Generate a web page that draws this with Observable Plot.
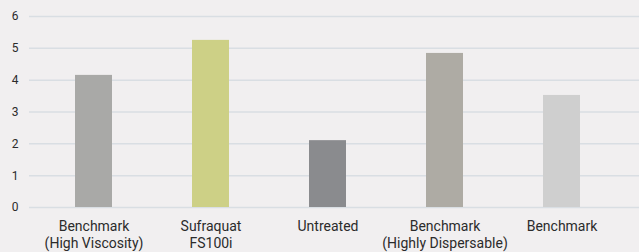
<!DOCTYPE html>
<html>
<head>
<meta charset="utf-8">
<script src="https://cdn.jsdelivr.net/npm/d3@7"></script>
<script src="https://cdn.jsdelivr.net/npm/@observablehq/plot@0.6"></script>
<style>
  html, body { margin: 0; padding: 0; background: #f1eff0; }
  #chart svg { display: block; }
</style>
</head>
<body>
<div id="chart"></div>
<script>
const categories = [
  "Benchmark\n(High Viscosity)",
  "Sufraquat\nFS100i",
  "Untreated",
  "Benchmark\n(Highly Dispersable)",
  "Benchmark"
];
const values = [4.15, 5.25, 2.1, 4.84, 3.52];
const colors = ["#a9a9a7", "#cdd086", "#8a8b8e", "#aeaba4", "#cfcfcf"];
const yTicks = [0, 1, 2, 3, 4, 5, 6];

const data = categories.map((c, i) => ({ key: i, label: c, value: values[i], color: colors[i] }));

const chart = Plot.plot({
  width: 639,
  height: 252,
  marginTop: 16,
  marginBottom: 45,
  marginLeft: 29,
  marginRight: 0,
  style: { background: "#f1eff0", fontFamily: "Roboto, sans-serif", color: "#333" },
  x: {
    domain: data.map(d => d.key),
    range: [35, 620.5],
    paddingInner: 0.684,
    paddingOuter: 0.342,
    label: null
  },
  y: { domain: [0, 6], label: null },
  marks: [
    Plot.ruleY(yTicks, { stroke: "#d9dee3", strokeWidth: 1.5 }),
    Plot.barY(data, { x: "key", y: "value", fill: "color" }),
    Plot.axisY(yTicks, {
      tickSize: 0, tickPadding: 11, fontSize: 12, fill: "#2b2b2b", label: null
    }),
    Plot.axisX({
      tickSize: 0, tickPadding: 12, fontSize: 14, lineHeight: 1.17, fill: "#2b2b2b",
      tickFormat: k => categories[k], label: null
    })
  ]
});
document.getElementById("chart").appendChild(chart);
</script>
</body>
</html>
